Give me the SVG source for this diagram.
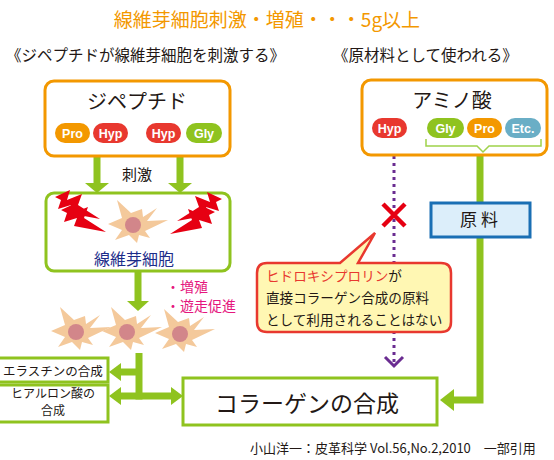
<svg xmlns="http://www.w3.org/2000/svg" xmlns:xlink="http://www.w3.org/1999/xlink" width="554" height="460" viewBox="0 0 554 460">
  <style>
    .jp { font-family: "Noto Sans CJK JP", "Noto Sans", sans-serif; }
    .pill { font-family: "Liberation Sans", Arial, sans-serif; font-weight: bold; font-size: 12.5px; fill: #ffffff; text-anchor: middle; }
    .gbox { fill: #ffffff; stroke: #8fc31f; stroke-width: 3; }
    .obox { fill: #ffffff; stroke: #f39800; stroke-width: 3; }
    .shaft { fill: none; stroke: #8fc31f; stroke-width: 7; }
    .head { fill: #8fc31f; }
    .dark { fill: #231815; }
  </style>
  <defs>
    <!-- fibroblast: spiky peach cell body with a round nucleus -->
    <g id="cell">
      <polygon points="-25,-1 -11,-7 -16,-25 -2,-12 9,-16 10,-8 24,-17 14,-4 35,-5 12,6 17,13 6,10 4,18 -4,10 -18,15 -11,5" fill="#f4c99b"/>
      <circle r="8" fill="#d2868a"/>
    </g>
    <!-- single zigzag lightning bolt -->
    <polygon id="bolt" points="0,0 15,-7 12,3 27,-3 23,8 45,22 13,16 16,8 3,12 6,3" fill="#e60012"/>
  </defs>

  <!-- headings -->
  <text class="jp" x="267" y="27" font-size="19" fill="#f39800" text-anchor="middle">線維芽細胞刺激・増殖・・・5g以上</text>
  <text class="jp dark" x="6" y="61" font-size="15.5">《ジペプチドが線維芽細胞を刺激する》</text>
  <text class="jp dark" x="333" y="61" font-size="15.5">《原材料として使われる》</text>

  <!-- connectors -->
  <g id="connectors">
    <!-- dipeptide stimulates fibroblast -->
    <line class="shaft" x1="97" y1="156" x2="97" y2="184"/>
    <polygon class="head" points="85,183 109,183 97,193"/>
    <line class="shaft" x1="180" y1="156" x2="180" y2="184"/>
    <polygon class="head" points="168,183 192,183 180,193"/>
    <!-- fibroblast proliferates -->
    <line class="shaft" x1="138" y1="271" x2="138" y2="303"/>
    <polygon class="head" points="127,301 149,301 138,311"/>
    <!-- synthesis branches -->
    <line class="shaft" x1="139" y1="353" x2="139" y2="399.5"/>
    <line class="shaft" x1="118" y1="372" x2="139" y2="372"/>
    <polygon class="head" points="109,372 121,363 121,381"/>
    <line class="shaft" x1="118" y1="396" x2="172" y2="396"/>
    <polygon class="head" points="109,396 121,387 121,405"/>
    <polygon class="head" points="183,396 171,387 171,405"/>
    <!-- amino acids used as raw material -->
    <polyline class="shaft" points="480,152 480,400 452,400"/>
    <polygon class="head" points="440,400 454,389 454,411"/>
    <!-- hydroxyproline path (not used) -->
    <line x1="394" y1="142" x2="394" y2="364" stroke="#6a2c91" stroke-width="3" stroke-dasharray="3 4"/>
    <polyline points="385,357 394,366 403,357" fill="none" stroke="#6a2c91" stroke-width="3"/>
  </g>

  <!-- dipeptide -->
  <g id="dipeptide">
    <rect class="obox" x="45" y="81" width="185" height="75" rx="9"/>
    <text class="jp dark" x="137" y="109" font-size="20" text-anchor="middle">ジペプチド</text>
    <rect x="55" y="123" width="35" height="20" rx="10" fill="#f39800"/>
    <text class="pill" x="72.5" y="137.5">Pro</text>
    <rect x="93" y="123" width="35" height="20" rx="10" fill="#e8382f"/>
    <text class="pill" x="110.5" y="137.5">Hyp</text>
    <rect x="146" y="123" width="35" height="20" rx="10" fill="#e8382f"/>
    <text class="pill" x="163.5" y="137.5">Hyp</text>
    <rect x="186" y="123" width="36" height="20" rx="10" fill="#8fc31f"/>
    <text class="pill" x="204" y="137.5">Gly</text>
  </g>

  <text class="jp dark" x="137" y="180" font-size="15" text-anchor="middle">刺激</text>

  <!-- amino acids -->
  <g id="amino-acids">
    <rect class="obox" x="362" y="80" width="185" height="75" rx="9"/>
    <text class="jp dark" x="452" y="108" font-size="20" text-anchor="middle">アミノ酸</text>
    <rect x="372" y="118" width="35" height="20" rx="10" fill="#e8382f"/>
    <text class="pill" x="389.5" y="132.5">Hyp</text>
    <rect x="427" y="118" width="37" height="20" rx="10" fill="#8fc31f"/>
    <text class="pill" x="445.5" y="132.5">Gly</text>
    <rect x="467" y="118" width="35" height="20" rx="10" fill="#f39800"/>
    <text class="pill" x="484.5" y="132.5">Pro</text>
    <rect x="505" y="118" width="36" height="20" rx="10" fill="#6aaec6"/>
    <text class="pill" x="523" y="132.5">Etc.</text>
    <polyline points="426,139 426,146 477,146 483,152 489,146 541,146 541,139" fill="none" stroke="#9fd24a" stroke-width="1.5"/>
  </g>

  <!-- fibroblast being stimulated -->
  <g id="fibroblast">
    <rect class="gbox" x="46" y="193" width="184" height="78" rx="8"/>
    <use xlink:href="#cell" href="#cell" x="133" y="225"/>
    <use xlink:href="#bolt" href="#bolt" transform="translate(55,197)"/>
    <use xlink:href="#bolt" href="#bolt" transform="translate(61,210)"/>
    <use xlink:href="#bolt" href="#bolt" transform="translate(222,199) scale(-1,1)"/>
    <use xlink:href="#bolt" href="#bolt" transform="translate(215,212) scale(-1,1)"/>
    <text class="jp" x="134" y="265" font-size="16" fill="#1d2d8a" text-anchor="middle">線維芽細胞</text>
  </g>

  <!-- proliferating fibroblasts -->
  <g id="proliferation">
    <use xlink:href="#cell" href="#cell" x="76" y="332"/>
    <use xlink:href="#cell" href="#cell" x="127" y="332"/>
    <use xlink:href="#cell" href="#cell" x="180" y="334"/>
    <text class="jp" x="166" y="292" font-size="14" fill="#e5177e">・増殖</text>
    <text class="jp" x="166" y="311" font-size="14" fill="#e5177e">・遊走促進</text>
  </g>

  <!-- raw material label -->
  <g id="raw-material">
    <rect x="431" y="203" width="99" height="34" fill="#dceefa" stroke="#1a6fb4" stroke-width="3"/>
    <text class="jp dark" x="481" y="226" font-size="17" letter-spacing="4" text-anchor="middle">原料</text>
  </g>

  <!-- hydroxyproline not used -->
  <g id="cross">
    <path d="M383,204 L405,226 M405,204 L383,226" stroke="#e60012" stroke-width="4.5"/>
  </g>
  <g id="note">
    <path d="M267,263 H340 L375,233 L358,263 H441 Q451,263 451,273 V322 Q451,332 441,332 H267 Q257,332 257,322 V273 Q257,263 267,263 Z" fill="#fff7b3" stroke="#e8382f" stroke-width="2.5"/>
    <text class="jp" x="266" y="281" font-size="13.6"><tspan fill="#e8382f">ヒドロキシプロリン</tspan><tspan fill="#231815">が</tspan></text>
    <text class="jp dark" x="266" y="303" font-size="13.6">直接コラーゲン合成の原料</text>
    <text class="jp dark" x="266" y="325" font-size="13.6">として利用されることはない</text>
  </g>

  <!-- outputs -->
  <g id="elastin">
    <rect class="gbox" x="-2" y="358" width="110" height="24"/>
    <text class="jp dark" x="53" y="376" font-size="12.5" text-anchor="middle">エラスチンの合成</text>
  </g>
  <g id="hyaluronic">
    <rect class="gbox" x="-2" y="385" width="110" height="37"/>
    <text class="jp dark" x="53" y="398" font-size="12" text-anchor="middle">ヒアルロン酸の</text>
    <text class="jp dark" x="53" y="415" font-size="12" text-anchor="middle">合成</text>
  </g>
  <g id="collagen">
    <rect class="gbox" x="183" y="378" width="254" height="47"/>
    <text class="jp dark" x="307" y="412" font-size="23" text-anchor="middle">コラーゲンの合成</text>
  </g>

  <text class="jp dark" x="250" y="453" font-size="13">小山洋一：皮革科学 Vol.56,No.2,2010　一部引用</text>
</svg>
